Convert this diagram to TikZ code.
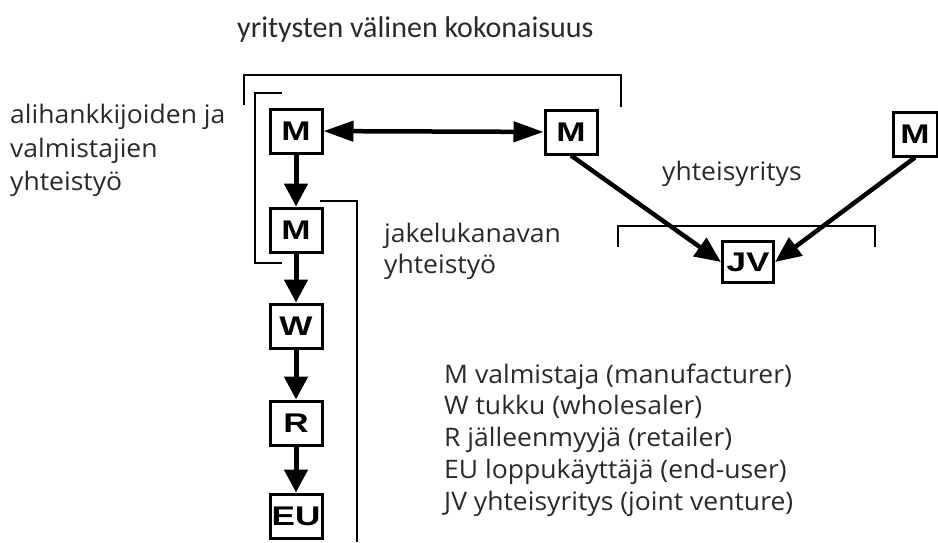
\documentclass[tikz,border=0pt]{standalone}
\usepackage{fontspec}
\setmainfont{Open Sans}[FakeStretch=1.04]
\newfontfamily\titlefont{Carlito}
\newfontfamily\boxfont{Liberation Sans}[FakeStretch=1.3]
\usetikzlibrary{arrows.meta}
\definecolor{txt}{HTML}{2A2A2A}
\begin{document}
\begin{tikzpicture}[x=1pt,y=-1pt,
  box/.style={draw, line width=3pt, minimum width=52pt, minimum height=44pt,
    inner sep=0pt, font=\boxfont\bfseries\fontsize{27}{27}\selectfont},
  flow/.style={line width=5pt, -{Triangle[length=23pt,width=23pt]}},
  diag/.style={line width=4.5pt, -{Triangle[length=26pt,width=22pt]}},
  both/.style={line width=4.5pt,
    {Triangle[length=30pt,width=20pt]}-{Triangle[length=30pt,width=20pt]}},
  brk/.style={line width=2pt},
  lbl/.style={anchor=base west, inner sep=0pt, text=txt,
    font=\fontsize{25.5}{25.5}\selectfont},
  ttl/.style={anchor=base west, inner sep=0pt, text=txt,
    font=\titlefont\fontsize{30}{30}\selectfont}]
\useasboundingbox (0,0) rectangle (938,542);

% boxes
\node[box] (m1) at (296,131) {M};
\node[box] (m2) at (296,230) {M};
\node[box] (w)  at (296,326) {W};
\node[box] (r)  at (296,423) {R};
\node[box] (eu) at (296,516) {EU};
\node[box] (mb) at (571,132) {M};
\node[box, minimum width=44pt] (mc) at (915,134) {M};
\node[box, minimum width=51pt, minimum height=41pt] (jv) at (748,262) {JV};

% supply chain
\draw[flow] (m1) -- (m2);
\draw[flow] (m2) -- (w);
\draw[flow] (w) -- (r);
\draw[flow] (r) -- (eu);
\draw[both] (m1) -- (mb);
\draw[diag] (mb.south) -- (jv.west);
\draw[diag] (mc.south) -- (jv.east);

% brackets
\coordinate (bigL) at (244,105);
\coordinate (bigR) at (621,107);
\draw[brk] (bigL) -- (244,75) -- (621,75) -- (bigR);
\coordinate (subA) at (282,93);
\coordinate (subB) at (282,263);
\draw[brk] (subA) -- (255,93) -- (255,263) -- (subB);
\coordinate (disA) at (320,201);
\coordinate (disB) at (357,542);
\draw[brk] (disA) -- (357,201) -- (disB);
\coordinate (jvL) at (618,247);
\coordinate (jvR) at (875,247);
\draw[brk] (jvL) -- (618,226) -- (875,226) -- (jvR);

% labels
\node[ttl] (title) at (237,37) {yritysten välinen kokonaisuus};
\node[lbl] (sub1) at (10,123) {alihankkijoiden ja};
\node[lbl] (sub2) at (10,157) {valmistajien};
\node[lbl] (sub3) at (10,190) {yhteistyö};
\node[lbl] (dis1) at (384,242) {jakelukanavan};
\node[lbl] (dis2) at (384,273) {yhteistyö};
\node[lbl] (jvt)  at (662,180) {yhteisyritys};
\node[lbl] (k1) at (444,383)   {M valmistaja (manufacturer)};
\node[lbl] (k2) at (444,414.8) {W tukku (wholesaler)};
\node[lbl] (k3) at (444,446.6) {R jälleenmyyjä (retailer)};
\node[lbl] (k4) at (444,478.4) {EU loppukäyttäjä (end-user)};
\node[lbl] (k5) at (444,510.2) {JV yhteisyritys (joint venture)};
\end{tikzpicture}
\end{document}
